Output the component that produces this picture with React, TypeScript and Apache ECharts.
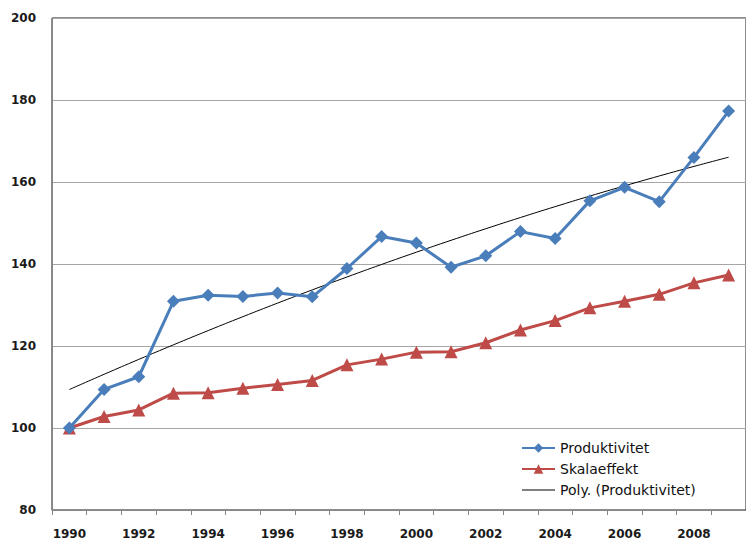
import React, { useEffect, useRef } from "react";
import * as echarts from "echarts";

const years = [
  "1990", "1991", "1992", "1993", "1994", "1995", "1996", "1997", "1998", "1999",
  "2000", "2001", "2002", "2003", "2004", "2005", "2006", "2007", "2008", "2009",
];
const produktivitet = [
  100, 109.4, 112.5, 130.9, 132.4, 132.1, 132.9, 132.0, 138.9, 146.7,
  145.1, 139.2, 142.0, 147.9, 146.2, 155.4, 158.7, 155.2, 166.0, 177.3,
];
const skalaeffekt = [
  100, 102.8, 104.4, 108.5, 108.6, 109.7, 110.6, 111.6, 115.4, 116.8,
  118.5, 118.6, 120.8, 123.9, 126.2, 129.3, 130.9, 132.6, 135.4, 137.3,
];
const yTicks = { min: 80, max: 200, interval: 20 };

// Excel "Poly." trendline (order 2) = least-squares fit of the Produktivitet series
function polyFit2(ys: number[]): number[] {
  let s0 = 0, s1 = 0, s2 = 0, s3 = 0, s4 = 0, t0 = 0, t1 = 0, t2 = 0;
  ys.forEach((y, i) => {
    const x = i + 1;
    s0 += 1; s1 += x; s2 += x * x; s3 += x ** 3; s4 += x ** 4;
    t0 += y; t1 += x * y; t2 += x * x * y;
  });
  const A = [
    [s0, s1, s2, t0],
    [s1, s2, s3, t1],
    [s2, s3, s4, t2],
  ];
  for (let c = 0; c < 3; c++) {
    for (let r = c + 1; r < 3; r++) {
      const f = A[r][c] / A[c][c];
      for (let k = c; k < 4; k++) A[r][k] -= f * A[c][k];
    }
  }
  const coef = [0, 0, 0];
  for (let r = 2; r >= 0; r--) {
    let s = A[r][3];
    for (let k = r + 1; k < 3; k++) s -= A[r][k] * coef[k];
    coef[r] = s / A[r][r];
  }
  return ys.map((_, i) => {
    const x = i + 1;
    return coef[0] + coef[1] * x + coef[2] * x * x;
  });
}

const trend = polyFit2(produktivitet);

export default function App() {
  const ref = useRef<HTMLDivElement>(null);
  useEffect(() => {
    if (!ref.current) return;
    const chart = echarts.init(ref.current, undefined, { renderer: "svg" });
    const labelFont = {
      fontFamily: "DejaVu Sans",
      fontWeight: "bold" as const,
      fontSize: 12,
      color: "#1a1a1a",
    };
    chart.setOption({
      animation: false,
      backgroundColor: "#ffffff",
      grid: {
        left: 52,
        top: 18,
        right: -11,
        bottom: 33,
        show: true,
        borderColor: "#1a1a1a",
        borderWidth: 1,
      },
      legend: {
        orient: "vertical",
        left: 516,
        top: 436,
        itemWidth: 33,
        itemHeight: 12,
        itemGap: 7,
        textStyle: {
          fontFamily: "DejaVu Sans",
          fontSize: 14,
          color: "#111",
        },
        data: [
          { name: "Produktivitet" },
          { name: "Skalaeffekt" },
          {
            name: "Poly. (Produktivitet)",
            itemStyle: { color: "transparent", borderWidth: 0 },
            lineStyle: { color: "#555555", width: 1.5 },
          },
        ],
      },
      xAxis: {
        type: "category",
        data: years,
        boundaryGap: true,
        axisLine: { lineStyle: { color: "#868686", width: 1 } },
        axisTick: { show: true, interval: 0, length: 5, lineStyle: { color: "#868686" } },
        axisLabel: { ...labelFont, interval: 1, margin: 18 },
        splitLine: { show: false },
      },
      yAxis: {
        type: "value",
        min: yTicks.min,
        max: yTicks.max,
        interval: yTicks.interval,
        axisLine: { show: true, lineStyle: { color: "#868686", width: 1 } },
        axisTick: { show: false },
        axisLabel: { ...labelFont, margin: 16 },
        splitLine: { show: true, lineStyle: { color: "#a6a6a6", width: 1 } },
      },
      series: [
        {
          name: "Poly. (Produktivitet)",
          type: "line",
          data: trend,
          smooth: true,
          showSymbol: false,
          symbol: "none",
          lineStyle: { color: "#000000", width: 1 },
          itemStyle: { color: "#000000" },
          z: 1,
        },
        {
          name: "Produktivitet",
          type: "line",
          data: produktivitet,
          symbol: "diamond",
          symbolSize: 13,
          lineStyle: { color: "#4a7ebb", width: 3 },
          itemStyle: { color: "#4a7ebb" },
          z: 3,
        },
        {
          name: "Skalaeffekt",
          type: "line",
          data: skalaeffekt,
          symbol: "triangle",
          symbolSize: 13,
          lineStyle: { color: "#be4b48", width: 3 },
          itemStyle: { color: "#be4b48" },
          z: 2,
        },
      ],
    });
    return () => chart.dispose();
  }, []);
  return (
    <div
      ref={ref}
      style={{ position: "absolute", left: 0, top: 0, width: 746, height: 543 }}
    />
  );
}
